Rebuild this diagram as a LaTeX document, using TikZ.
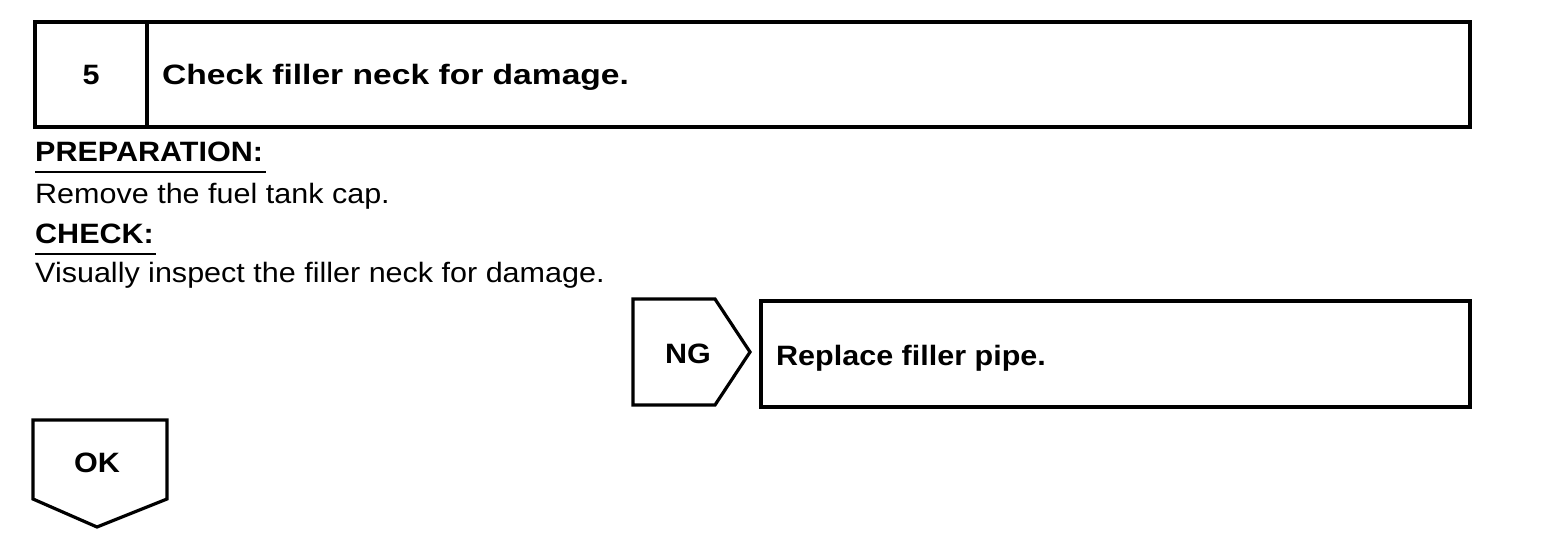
\documentclass[tikz,border=0pt]{standalone}
\usepackage{fontspec}
\setmainfont{Liberation Sans}
\newfontfamily\bodyfont{Liberation Sans}[FakeStretch=1.09]
\newfontfamily\headfont{Liberation Sans}[FakeStretch=1.2]
\usetikzlibrary{positioning}
\tikzset{
  frame/.style={draw, line width=3.2pt},
  rule/.style={line width=2.5pt},
  headtext/.style={font=\headfont\bfseries\fontsize{28}{32}\selectfont, inner sep=0pt, anchor=base west},
  labeltext/.style={font=\bodyfont\bfseries\fontsize{28}{32}\selectfont, inner sep=0pt, anchor=base west},
  bodytext/.style={font=\bodyfont\fontsize{28}{32}\selectfont, inner sep=0pt, anchor=base west},
}

\begin{document}
\begin{tikzpicture}[x=1pt, y=-1pt, line join=miter]
\useasboundingbox (0,0) rectangle (1568,544);
% ---------- step header ----------
\draw[frame] (35,22) rectangle (1470,127);
\draw[frame] (147,22) -- (147,127);
\node[labeltext, anchor=base] (stepno) at (91,84) {5};
\node[headtext] (steptitle) at (162,84) {Check filler neck for damage.};
% ---------- preparation and check ----------
\node[labeltext] (prep) at (35,161) {PREPARATION:};
\draw[rule] ([yshift=-11pt]prep.base west) -- ([yshift=-11pt,xshift=3pt]prep.base east);
\node[bodytext] (prepline) at (35,203) {Remove the fuel tank cap.};
\node[labeltext] (check) at (35,243) {CHECK:};
\draw[rule] ([yshift=-11pt]check.base west) -- ([yshift=-11pt,xshift=2pt]check.base east);
\node[bodytext] (checkline) at (35,282) {Visually inspect the filler neck for damage.};
% ---------- NG branch ----------
\draw[frame] (633,299) -- (715,299) -- (750,352) -- (715,405) -- (633,405) -- cycle;
\node[labeltext, anchor=base] (ng) at (688,363) {NG};
\draw[frame] (761,301) rectangle (1470,407);
\node[labeltext] (ngaction) at (776,365) {Replace filler pipe.};
% ---------- OK branch ----------
\draw[frame] (33,420) -- (167,420) -- (167,499) -- (97,527) -- (33,499) -- cycle;
\node[labeltext, anchor=base] (ok) at (97,472) {OK};
\end{tikzpicture}
\end{document}
